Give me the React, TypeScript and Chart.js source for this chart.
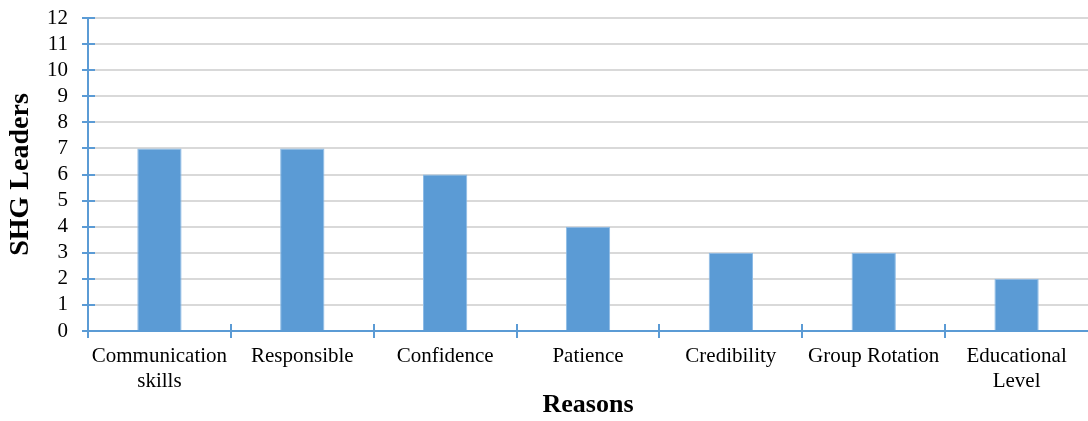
import React, { useEffect, useRef } from "react";
import { Chart, registerables } from "chart.js";

Chart.register(...registerables);

const categories: (string | string[])[] = [
  ["Communication", "skills"],
  "Responsible",
  "Confidence",
  "Patience",
  "Credibility",
  "Group Rotation",
  ["Educational", "Level"],
];
const leaders = [7, 7, 6, 4, 3, 3, 2];
const yMin = 0;
const yMax = 12;
const yStep = 1;

const BLUE = "#5B9BD5";
const FONT = "'Liberation Serif', 'Times New Roman', serif";

const crossTicks = {
  id: "crossTicks",
  afterDraw(chart: any) {
    const ctx = chart.ctx;
    const ys = chart.scales.y;
    const area = chart.chartArea;
    ctx.save();
    ctx.strokeStyle = BLUE;
    ctx.lineWidth = 2;
    ctx.beginPath();
    ys.ticks.forEach((t: any) => {
      const y = Math.round(ys.getPixelForValue(t.value));
      ctx.moveTo(area.left - 6, y);
      ctx.lineTo(area.left + 7, y);
    });
    const n = categories.length;
    const w = (area.right - area.left) / n;
    for (let k = 0; k < n; k++) {
      const x = Math.round(area.left + k * w);
      ctx.moveTo(x, area.bottom - 7);
      ctx.lineTo(x, area.bottom + 7);
    }
    ctx.stroke();
    ctx.restore();
  },
};

export default function App() {
  const ref = useRef<HTMLCanvasElement | null>(null);
  useEffect(() => {
    if (!ref.current) return;
    const chart = new Chart(ref.current, {
      type: "bar",
      data: {
        labels: categories,
        datasets: [
          {
            data: leaders,
            backgroundColor: BLUE,
            borderColor: "#8DBBE6",
            borderWidth: 1,
            barPercentage: 0.31,
            categoryPercentage: 1,
          },
        ],
      },
      options: {
        animation: false,
        responsive: false,
        maintainAspectRatio: false,
        layout: { padding: { top: 18, right: 0, left: 0, bottom: 0 } },
        plugins: {
          legend: { display: false },
          tooltip: { enabled: false },
        },
        scales: {
          x: {
            grid: { display: false, drawTicks: false },
            border: { color: BLUE, width: 2 },
            ticks: {
              color: "#000",
              font: { family: FONT, size: 21 },
              padding: 13,
              maxRotation: 0,
              autoSkip: false,
            },
            title: {
              display: true,
              text: "Reasons",
              color: "#000",
              font: { family: FONT, size: 26, weight: "bold" },
              padding: { top: 0, bottom: 0 },
            },
            afterFit(scale: any) {
              scale.height = 90;
              scale.paddingLeft = 0;
              scale.paddingRight = 0;
            },
          },
          y: {
            min: yMin,
            max: yMax,
            ticks: {
              stepSize: yStep,
              autoSkip: false,
              color: "#000",
              font: { family: FONT, size: 21 },
              padding: 20,
            },
            grid: { color: "#D9D9D9", lineWidth: 2, drawTicks: false },
            border: { color: BLUE, width: 2 },
            title: {
              display: true,
              text: "SHG Leaders",
              color: "#000",
              font: { family: FONT, size: 28, weight: "bold" },
              padding: { top: 4, bottom: 0 },
            },
            afterFit(scale: any) {
              scale.width = 88;
              scale.paddingTop = 0;
              scale.paddingBottom = 0;
            },
          },
        },
      },
      plugins: [crossTicks],
    });
    return () => chart.destroy();
  }, []);
  return (
    <div style={{ position: "fixed", left: 0, top: 0, width: 1088, height: 421, background: "#fff" }}>
      <canvas ref={ref} width={1088} height={421} style={{ width: 1088, height: 421 }} />
    </div>
  );
}
